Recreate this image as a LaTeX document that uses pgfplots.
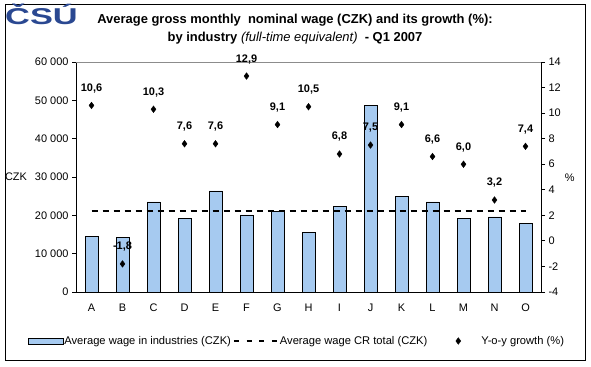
\documentclass[border=0pt]{standalone}
\usepackage{pgfplots}
\pgfplotsset{compat=1.18}
\usepackage{fontspec}
\setmainfont{Liberation Sans}
\definecolor{barblue}{RGB}{166,202,240}
\definecolor{logoblue}{RGB}{42,72,145}
\pgfplotstableread{
x y
0 14600
1 14300
2 23500
3 19300
4 26400
5 20100
6 21100
7 15500
8 22300
9 48600
10 24900
11 23500
12 19300
13 19600
14 18000
}\wages
\pgfplotstableread{
x y
0 21250
14 21250
}\crtotal
\begin{document}
\begin{tikzpicture}[x=1bp,y=1bp]
\path (0,0) rectangle (591,366);
\draw[line width=1bp] (5,5.5) rectangle (585.5,361);
\node[font=\fontsize{23}{23}\bfseries\selectfont, text=logoblue, xscale=1.5, inner sep=0] at (41.5,352) {ČSÚ};
\node[font=\fontsize{13}{15}\bfseries\selectfont, inner sep=0] at (295,345.5) {Average gross monthly\ \ nominal wage (CZK) and its growth (\%):};
\node[font=\fontsize{13}{15}\bfseries\selectfont, inner sep=0] at (295,328) {by industry \textmd{\itshape(full-time equivalent)}\ \ - Q1 2007};
\begin{axis}[
  at={(76bp,74bp)}, anchor=south west,
  scale only axis, width=465bp, height=230bp,
  xmin=-0.5, xmax=14.5, ymin=0, ymax=60000,
  axis x line*=bottom, axis y line*=left,
  axis line style={line width=0.8bp},
  scaled y ticks=false,
  xtick={0,...,14},
  xticklabels={A,B,C,D,E,F,G,H,I,J,K,L,M,N,O},
  minor xtick={-0.5,0.5,...,14.5},
  xtick style={draw=none},
  minor tick length=4bp, major tick length=4bp,
  tick align=outside,
  tick style={black, line width=0.8bp},
  ytick={0,10000,...,60000},
  yticklabels={0,10 000,20 000,30 000,40 000,50 000,60 000},
  ticklabel style={font=\fontsize{11}{12}\selectfont},
  xticklabel style={yshift=-4bp},
  ylabel={CZK},
  ylabel style={rotate=-90, at={(axis description cs:-0.129,0.5)}, anchor=center, font=\fontsize{11}{12}\selectfont},
]
\draw[gray!90, line width=0.8bp] (rel axis cs:0,1) -- (rel axis cs:1,1);
\addplot[ybar, bar width=13bp, fill=barblue, draw=black, line width=0.6bp] table[x=x,y=y] {\wages};
\addplot[black, line width=2bp, dash pattern=on 6bp off 5bp] table[x=x,y=y] {\crtotal};
\end{axis}
\begin{axis}[
  at={(76bp,74bp)}, anchor=south west,
  scale only axis, width=465bp, height=230bp,
  xmin=-0.5, xmax=14.5, ymin=-4, ymax=14,
  axis y line*=right, axis x line=none,
  axis line style={line width=0.8bp},
  clip=false,
  ytick={-4,-2,...,14},
  yticklabels={-4,-2,0,2,4,6,8,10,12,14},
  major tick length=4bp, tick align=outside,
  tick style={black, line width=0.8bp},
  ticklabel style={font=\fontsize{11}{12}\selectfont},
  ylabel={\%},
  ylabel style={rotate=-90, at={(axis description cs:1.062,0.497)}, anchor=center, font=\fontsize{11}{12}\selectfont},
  legend columns=3,
  legend style={at={(-0.1032,-0.213)}, anchor=west, draw=none, fill=none,
    inner sep=0pt, outer sep=0pt,
    nodes={inner sep=0pt},
    column sep=0pt,
    font=\fontsize{11.2}{12}\selectfont},
]
\addlegendimage{legend image code/.code={\draw[fill=barblue,draw=black,line width=0.6bp] (0bp,-3bp) rectangle (35bp,3bp); \path[draw=none] (0bp,0bp) -- (36bp,0bp);}}
\addlegendentry{Average wage in industries (CZK)}
\addlegendimage{legend image code/.code={\draw[black,line width=2.5bp,dash pattern=on 5bp off 7.67bp] (3bp,0bp) -- (46bp,0bp); \path[draw=none] (0bp,0bp) -- (49bp,0bp);}}
\addlegendentry{Average wage CR total (CZK)}
\addlegendimage{legend image code/.code={\path[draw=none] (0bp,0bp) -- (54bp,0bp); \path[draw=black,fill=black] plot[mark=diamond*, mark size=3.3bp] coordinates {(31bp,0bp)};}, only marks}
\addlegendentry{Y-o-y growth (\%)}
\addplot[only marks, mark=diamond*, mark size=3.3bp, black, forget plot,
  nodes near coords, point meta=explicit symbolic,
  nodes near coords style={font=\fontsize{11}{12}\bfseries\selectfont, anchor=center, yshift=17bp, black}
  ] coordinates {
  (0,10.6) [10,6]
  (1,-1.8) [-1,8]
  (2,10.3) [10,3]
  (3,7.6) [7,6]
  (4,7.6) [7,6]
  (5,12.9) [12,9]
  (6,9.1) [9,1]
  (7,10.5) [10,5]
  (8,6.8) [6,8]
  (9,7.5) [7,5]
  (10,9.1) [9,1]
  (11,6.6) [6,6]
  (12,6.0) [6,0]
  (13,3.2) [3,2]
  (14,7.4) [7,4]
};
\end{axis}
\end{tikzpicture}
\end{document}
